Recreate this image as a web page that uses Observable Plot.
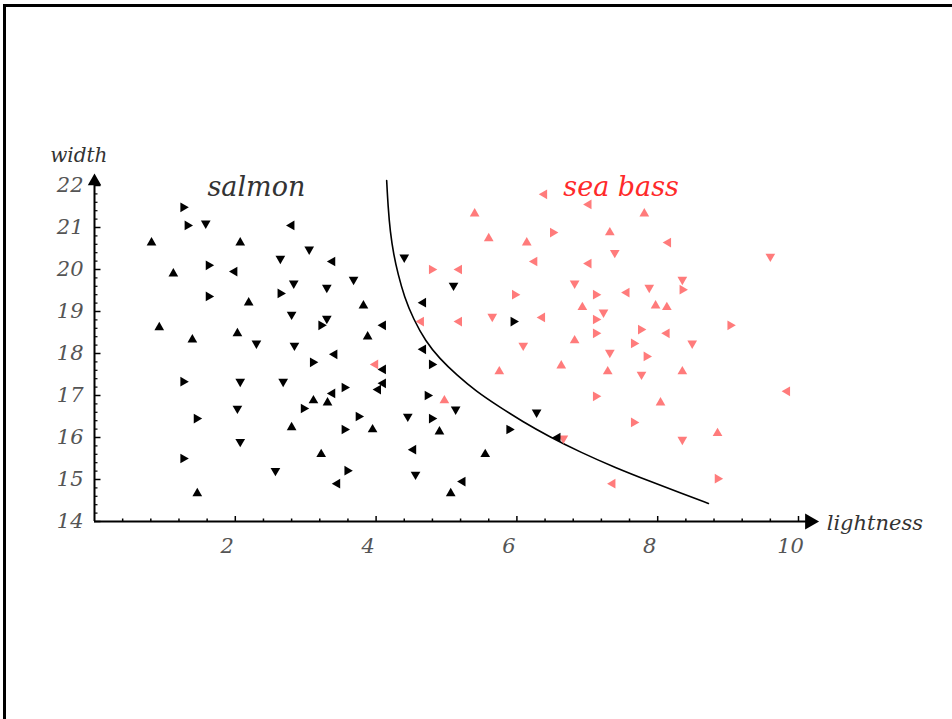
<!DOCTYPE html>
<html>
<head>
<meta charset="utf-8">
<script src="https://cdn.jsdelivr.net/npm/d3@7"></script>
<script src="https://cdn.jsdelivr.net/npm/@observablehq/plot@0.6"></script>
<style>
  html, body { margin: 0; padding: 0; background: #fff; overflow: hidden; }
  #wrap { position: relative; width: 952px; height: 719px; }
  #frame { position: absolute; left: 3px; top: 4px; width: 1000px; height: 800px;
           border-left: 3px solid #000; border-top: 3px solid #000; box-sizing: border-box; }
  #chart { position: absolute; left: 0; top: 0; }
</style>
</head>
<body>
<div id="wrap"><div id="frame"></div><div id="chart"></div></div>
<script>
// [lightness, width, marker direction]
const salmon = [
  [1.26,21.48,"r"],[1.32,21.05,"r"],[1.58,21.10,"d"],[0.81,20.64,"u"],[2.07,20.64,"u"],
  [2.80,21.05,"l"],[3.05,20.48,"d"],[2.64,20.26,"d"],[3.38,20.19,"l"],[1.62,20.10,"r"],
  [1.12,19.90,"u"],[1.99,19.95,"l"],[2.83,19.67,"d"],[3.30,19.57,"d"],[1.62,19.36,"r"],
  [2.19,19.21,"u"],[2.64,19.43,"r"],[2.80,18.93,"d"],[3.30,18.83,"d"],[3.22,18.67,"r"],
  [0.92,18.62,"u"],[2.03,18.48,"u"],[1.39,18.33,"u"],[2.30,18.24,"d"],[2.84,18.19,"d"],
  [3.10,17.79,"r"],[1.26,17.33,"r"],[2.07,17.33,"d"],[2.68,17.33,"d"],[3.11,16.88,"u"],
  [3.31,16.83,"u"],[2.97,16.69,"r"],[2.03,16.69,"d"],[1.45,16.45,"r"],[2.80,16.24,"u"],
  [2.07,15.90,"d"],[1.26,15.50,"r"],[3.22,15.60,"u"],[2.57,15.21,"d"],[1.46,14.67,"u"],
  [4.40,20.29,"d"],[3.68,19.76,"d"],[5.10,19.62,"d"],[3.82,19.14,"u"],[4.67,19.21,"l"],
  [4.10,18.67,"l"],[3.88,18.40,"u"],[5.95,18.76,"r"],[4.67,18.10,"l"],[3.41,17.98,"l"],
  [4.79,17.74,"r"],[4.10,17.62,"l"],[3.55,17.19,"r"],[4.10,17.29,"l"],[4.03,17.14,"l"],
  [3.38,17.05,"l"],[4.73,17.00,"r"],[5.13,16.67,"d"],[3.75,16.50,"r"],[4.45,16.50,"d"],
  [4.79,16.45,"r"],[3.55,16.19,"r"],[3.95,16.19,"u"],[4.90,16.14,"u"],[6.28,16.60,"d"],
  [5.89,16.19,"r"],[6.58,16.00,"l"],[4.53,15.71,"l"],[5.55,15.60,"u"],[3.59,15.21,"r"],
  [3.45,14.90,"l"],[4.56,15.12,"d"],[5.23,14.95,"l"],[5.06,14.67,"u"]
];
const seaBass = [
  [6.39,21.79,"l"],[5.40,21.33,"u"],[6.51,20.88,"r"],[5.60,20.74,"u"],[6.14,20.64,"u"],
  [6.25,20.19,"l"],[4.79,20.00,"r"],[5.18,20.00,"l"],[5.97,19.40,"r"],[5.65,18.88,"d"],
  [6.36,18.86,"l"],[4.64,18.76,"l"],[5.18,18.76,"l"],[6.09,18.19,"d"],[3.99,17.74,"l"],
  [6.63,17.71,"u"],[5.75,17.57,"u"],[4.97,16.88,"u"],[6.66,15.98,"d"],[7.02,21.55,"l"],
  [7.81,21.33,"u"],[7.32,20.88,"u"],[8.15,20.64,"l"],[7.39,20.40,"d"],[7.02,20.14,"l"],
  [9.60,20.31,"d"],[6.82,19.67,"d"],[8.35,19.76,"d"],[7.12,19.40,"r"],[7.56,19.45,"l"],
  [7.88,19.57,"d"],[8.35,19.52,"r"],[6.93,19.10,"u"],[7.97,19.14,"u"],[8.13,19.10,"u"],
  [7.23,18.98,"d"],[7.12,18.81,"r"],[9.03,18.67,"r"],[7.76,18.57,"r"],[7.12,18.48,"r"],
  [8.13,18.48,"l"],[6.82,18.31,"u"],[7.66,18.24,"r"],[8.49,18.24,"d"],[7.32,18.02,"d"],
  [7.84,17.93,"r"],[7.29,17.57,"u"],[7.77,17.50,"d"],[8.35,17.57,"u"],[7.12,16.98,"r"],
  [8.04,16.83,"u"],[9.84,17.10,"l"],[7.66,16.36,"r"],[8.85,16.10,"u"],[8.35,15.95,"d"],
  [7.36,14.90,"l"],[8.85,15.02,"r"]
];
// decision boundary [lightness, width]
const boundary = [
  [4.15,22.12],[4.17,21.5],[4.20,20.9],[4.25,20.35],[4.31,19.9],[4.40,19.35],
  [4.53,18.82],[4.70,18.30],[4.90,17.88],[5.15,17.48],[5.42,17.10],[5.74,16.74],
  [6.08,16.38],[6.45,16.03],[6.90,15.65],[7.40,15.28],[7.90,14.95],[8.35,14.66],[8.72,14.43]
];
const xTicks = [2, 4, 6, 8, 10];
const yTicks = [14, 15, 16, 17, 18, 19, 20, 21, 22];
const classLabels = [
  {x: 2.30, y: 21.95, text: "salmon"},
  {x: 7.48, y: 21.95, text: "sea bass"}
];

const rot = {u: 0, r: 90, d: 180, l: 270};
const xMinor = d3.range(0.4, 10.01, 0.4).map(v => +v.toFixed(1)).filter(v => Math.abs(v - Math.round(v)) > 1e-6 || Math.round(v) % 2 !== 0);
const yMinor = d3.range(14.2, 22.0, 0.2).map(v => +v.toFixed(1)).filter(v => Math.abs(v - Math.round(v)) > 1e-6);

const font = "DejaVu Serif";
const plot = Plot.plot({
  width: 952,
  height: 719,
  marginLeft: 94,
  marginRight: 154,
  marginTop: 185,
  marginBottom: 198,
  x: {domain: [0, 10]},
  y: {domain: [14, 22]},
  style: {fontFamily: font, background: "transparent", overflow: "visible"},
  marks: [
    // axes lines
    Plot.ruleY([14], {x1: 0, x2: 10.2, stroke: "#000", strokeWidth: 2}),
    Plot.ruleX([0], {y1: 14, y2: 22.12, stroke: "#000", strokeWidth: 2}),
    Plot.dot([[10.16, 14]], {x: d => d[0], y: d => d[1], symbol: "triangle", r: 6, fill: "#000", rotate: 90}),
    Plot.dot([[0, 22.1]], {x: d => d[0], y: d => d[1], symbol: "triangle", r: 5, fill: "#000", rotate: 0}),
    // minor ticks
    Plot.axisX({ticks: xMinor, tickSize: -2.5, tickFormat: () => "", stroke: "#000", strokeWidth: 1.5, label: null}),
    Plot.axisY({ticks: yMinor, tickSize: -3.5, tickFormat: () => "", stroke: "#000", strokeWidth: 1.2, label: null}),
    // major ticks
    Plot.axisX({ticks: xTicks, tickSize: -5, tickFormat: () => "", stroke: "#000", strokeWidth: 1.5, label: null}),
    Plot.axisY({ticks: yTicks, tickSize: -6.5, tickFormat: () => "", stroke: "#000", strokeWidth: 1.5, label: null}),
    // tick labels
    Plot.axisX({ticks: xTicks, tickSize: 0, tickPadding: 17, dx: -8, fontSize: 21, fontStyle: "italic", fill: "#555", label: null}),
    Plot.axisY({ticks: yTicks, tickSize: 0, tickPadding: 11, fontSize: 21, fontStyle: "italic", fill: "#555", label: null}),
    // axis titles
    Plot.text(["width"], {x: -0.63, y: 22.72, text: d => d, textAnchor: "start", fontSize: 20, fontStyle: "italic", fill: "#333"}),
    Plot.text(["lightness"], {x: 10.4, y: 13.95, text: d => d, textAnchor: "start", fontSize: 21, fontStyle: "italic", fill: "#333"}),
    // class labels
    Plot.text(classLabels, {x: "x", y: "y", text: "text", fontSize: 27, fontStyle: "italic",
      fill: d => d.text === "salmon" ? "#333" : "#ff2a2a"}),
    // decision boundary
    Plot.line(boundary, {x: d => d[0], y: d => d[1], curve: "basis", stroke: "#000", strokeWidth: 1.6}),
    // points
    Plot.dot(seaBass, {x: d => d[0], y: d => d[1], symbol: "triangle", r: 3.6, fill: "#ff7b7b", rotate: d => rot[d[2]]}),
    Plot.dot(salmon, {x: d => d[0], y: d => d[1], symbol: "triangle", r: 3.6, fill: "#000", rotate: d => rot[d[2]]})
  ]
});
document.getElementById("chart").appendChild(plot);
</script>
</body>
</html>
